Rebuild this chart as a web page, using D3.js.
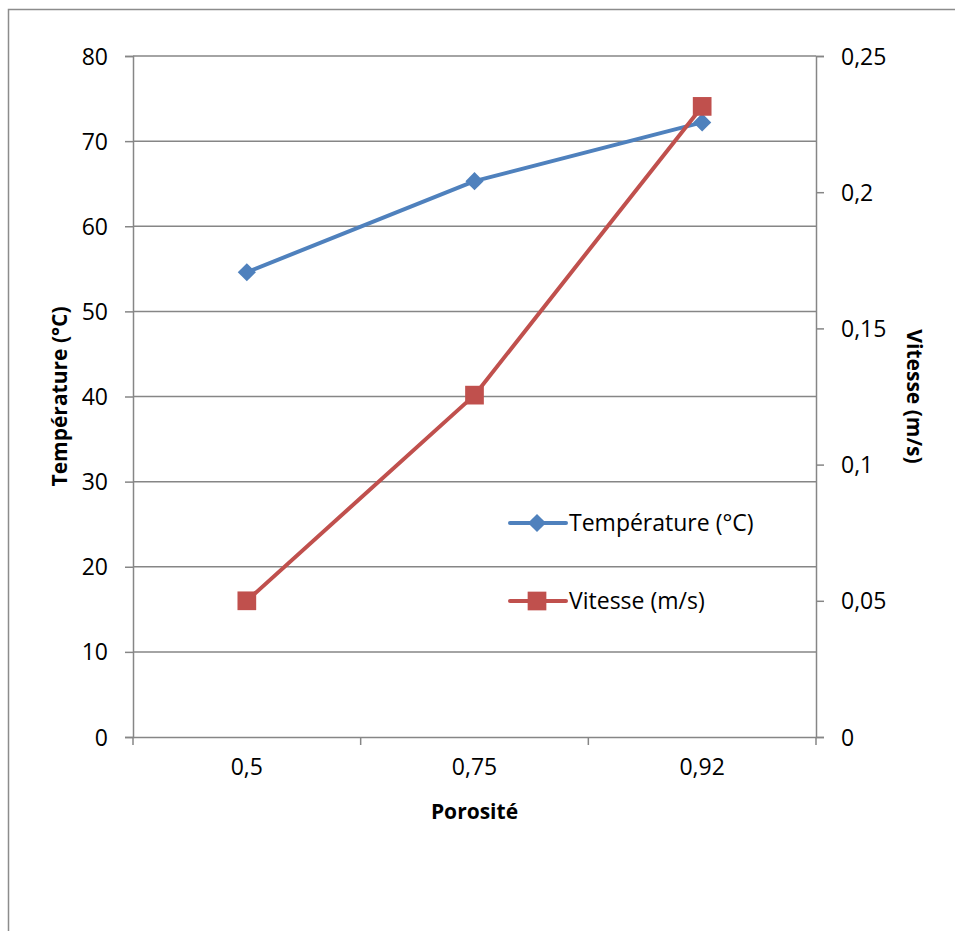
<!DOCTYPE html>
<html>
<head>
<meta charset="utf-8">
<script src="https://cdn.jsdelivr.net/npm/d3@7"></script>
<style>
  html, body { margin: 0; padding: 0; background: #fff; }
  svg text { font-family: "Open Sans", "Noto Sans", sans-serif; fill: #000; }
</style>
</head>
<body>
<svg id="chart" width="955" height="931"></svg>
<script>
// Porosity categories and measured series
const categories = ["0,5", "0,75", "0,92"];
const temperature = [54.6, 65.3, 72.2];      // °C, left axis
const vitesse = [0.050, 0.1255, 0.2315];     // m/s, right axis
const leftTicks = [0, 10, 20, 30, 40, 50, 60, 70, 80];
const rightTicks = [0, 0.05, 0.1, 0.15, 0.2, 0.25];
const seriesNames = ["Température (°C)", "Vitesse (m/s)"];

const svg = d3.select("#chart");
const W = 955, H = 931;
const m = { left: 133, right: 816, top: 56, bottom: 737 };
const blue = "#4F81BD", red = "#C0504D", grid = "#868686";
const labelSize = "23px", titleSize = "21px";

// Outer chart frame
svg.append("path")
  .attr("d", `M8.5,${H} V9.5 H${W}`)
  .attr("fill", "none").attr("stroke", "#8c8c8c").attr("stroke-width", 1.5);

const x = d3.scaleBand().domain(categories).range([m.left, m.right]);
const yL = d3.scaleLinear().domain([0, 80]).range([m.bottom, m.top]);
const yR = d3.scaleLinear().domain([0, 0.25]).range([m.bottom, m.top]);
const fmt = d => d3.format("~g")(d).replace(".", ",");

// Horizontal gridlines at left-axis ticks
svg.append("g").selectAll("line").data(leftTicks.filter(d => d > 0)).join("line")
  .attr("x1", m.left).attr("x2", m.right)
  .attr("y1", d => yL(d)).attr("y2", d => yL(d))
  .attr("stroke", grid).attr("stroke-width", 1.5);

// Left axis
const gL = svg.append("g").attr("transform", `translate(${m.left},0)`)
  .call(d3.axisLeft(yL).tickValues(leftTicks).tickSize(8).tickPadding(17).tickFormat(d => d));
// Right axis
const gR = svg.append("g").attr("transform", `translate(${m.right},0)`)
  .call(d3.axisRight(yR).tickValues(rightTicks).tickSize(8).tickPadding(17).tickFormat(fmt));
// Bottom axis with ticks at category boundaries
const gB = svg.append("g").attr("transform", `translate(0,${m.bottom})`)
  .call(d3.axisBottom(x).tickSize(0).tickPadding(22));
gB.selectAll(".bnd").data(categories.concat([null])).join("line").attr("class", "bnd")
  .attr("x1", (d, i) => m.left + i * x.step()).attr("x2", (d, i) => m.left + i * x.step())
  .attr("y1", 0).attr("y2", 8).attr("stroke", grid).attr("stroke-width", 1.5);

[gL, gR, gB].forEach(g => {
  g.selectAll(".domain").attr("stroke", grid).attr("stroke-width", 1.5);
  g.selectAll(".tick line").attr("stroke", grid).attr("stroke-width", 1.5);
  g.selectAll("text").style("font-size", labelSize).attr("fill", "#000");
});
gL.selectAll("text").attr("dy", "0.35em");
gR.selectAll("text").attr("dy", "0.35em");

// Axis titles
svg.append("text").attr("transform", `translate(60,${(m.top + m.bottom) / 2}) rotate(-90)`)
  .attr("text-anchor", "middle").attr("dy", "0.35em")
  .style("font-size", titleSize).style("font-weight", "bold")
  .text("Température (°C)");
svg.append("text").attr("transform", `translate(914,${(m.top + m.bottom) / 2}) rotate(90)`)
  .attr("text-anchor", "middle").attr("dy", "0.35em")
  .style("font-size", titleSize).style("font-weight", "bold")
  .text("Vitesse (m/s)");
svg.append("text").attr("x", (m.left + m.right) / 2).attr("y", 812)
  .attr("text-anchor", "middle").attr("dy", "0.35em")
  .style("font-size", titleSize).style("font-weight", "bold")
  .text("Porosité");

const cx = d => x(d) + x.bandwidth() / 2;
const line = (ys, vals) => d3.line().x((d, i) => cx(categories[i])).y(d => ys(d))(vals);

const diamond = d3.symbol().type(d3.symbolDiamond2).size(210);
const square = d3.symbol().type(d3.symbolSquare).size(350);

// Temperature series
svg.append("path").attr("d", line(yL, temperature))
  .attr("fill", "none").attr("stroke", blue).attr("stroke-width", 4).attr("stroke-linejoin", "round");
svg.append("g").selectAll("path").data(temperature).join("path")
  .attr("transform", (d, i) => `translate(${cx(categories[i])},${yL(d)})`)
  .attr("d", diamond).attr("fill", blue);

// Vitesse series
svg.append("path").attr("d", line(yR, vitesse))
  .attr("fill", "none").attr("stroke", red).attr("stroke-width", 4).attr("stroke-linejoin", "round");
svg.append("g").selectAll("path").data(vitesse).join("path")
  .attr("transform", (d, i) => `translate(${cx(categories[i])},${yR(d)})`)
  .attr("d", square).attr("fill", red);

// Legend
const legend = svg.append("g");
const legendY = [523, 601];
const colors = [blue, red];
const symbols = [diamond, square];
seriesNames.forEach((name, i) => {
  const g = legend.append("g").attr("transform", `translate(510,${legendY[i]})`);
  g.append("line").attr("x1", 0).attr("x2", 56).attr("stroke", colors[i])
    .attr("stroke-width", 4).attr("stroke-linecap", "round");
  g.append("path").attr("transform", "translate(27,0)").attr("d", symbols[i]).attr("fill", colors[i]);
  g.append("text").attr("x", 59).attr("dy", "0.35em").style("font-size", labelSize).text(name);
});
</script>
</body>
</html>
